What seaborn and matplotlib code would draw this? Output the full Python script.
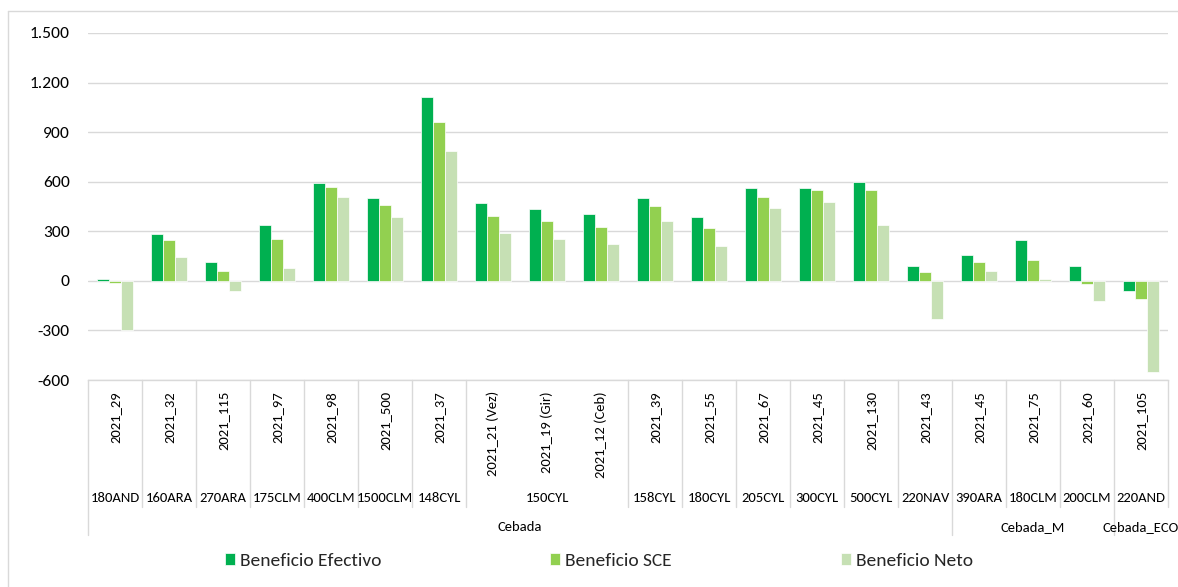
import matplotlib
matplotlib.use("Agg")
import matplotlib.pyplot as plt
import seaborn as sns
import pandas as pd
import numpy as np
from matplotlib import font_manager
from matplotlib.ticker import FuncFormatter
from matplotlib.transforms import blended_transform_factory
from matplotlib.lines import Line2D

# ---------------- data ----------------
categories = ["2021_29", "2021_32", "2021_115", "2021_97", "2021_98", "2021_500",
              "2021_37", "2021_21 (Vez)", "2021_19 (Gir)", "2021_12 (Ceb)", "2021_39",
              "2021_55", "2021_67", "2021_45", "2021_130", "2021_43", "2021_45 ",
              "2021_75", "2021_60", "2021_105"]
efectivo = [14, 286, 115, 338, 594, 503, 1111, 471, 437, 403, 503, 384, 564, 560, 598,
            89, 159, 250, 89, -60]
sce = [-12, 246, 62, 254, 568, 459, 960, 393, 362, 328, 455, 320, 507, 552, 552,
       52, 115, 127, -18, -107]
neto = [-300, 145, -60, 80, 509, 384, 787, 292, 256, 223, 362, 213, 441, 477, 338,
        -229, 62, 10, -121, -553]
level2_labels = ["180AND", "160ARA", "270ARA", "175CLM", "400CLM", "1500CLM", "148CYL",
                 "150CYL", "158CYL", "180CYL", "205CYL", "300CYL", "500CYL", "220NAV",
                 "390ARA", "180CLM", "200CLM", "220AND"]
level2_sizes = [1, 1, 1, 1, 1, 1, 1, 3, 1, 1, 1, 1, 1, 1, 1, 1, 1, 1]
level3_labels = ["Cebada", "Cebada_M", "Cebada_ECO"]
level3_sizes = [16, 3, 1]
series_names = ["Beneficio Efectivo", "Beneficio SCE", "Beneficio Neto"]
series_colors = ["#00B050", "#92D050", "#C6E0B4"]
yticks = [-600, -300, 0, 300, 600, 900, 1200, 1500]

# ---------------- style ----------------
sns.set_theme(style="white")
avail = {f.name for f in font_manager.fontManager.ttflist}
prefs = [("Carlito", 10.5), ("Liberation Sans Narrow", 11), ("Roboto Condensed", 10.5),
         ("DejaVu Sans Condensed", 9.5), ("Liberation Sans", 10), ("DejaVu Sans", 9.5)]
FONT, FS = next((f, s) for f, s in prefs if f in avail)
plt.rcParams["font.family"] = [FONT, "DejaVu Sans"]
GRID = "#D9D9D9"

W, H = 1178, 587
fig = plt.figure(figsize=(W / 100, H / 100), dpi=100)
fig.patch.set_facecolor("white")
ax = fig.add_axes([88 / W, (H - 380) / H, 1080 / W, 347 / H])

df = pd.DataFrame({
    "cat": categories * 3,
    "serie": [series_names[0]] * len(categories) + [series_names[1]] * len(categories)
             + [series_names[2]] * len(categories),
    "value": efectivo + sce + neto,
})

sns.barplot(data=df, x="cat", y="value", hue="serie", order=categories,
            hue_order=series_names, palette=series_colors, saturation=1, width=0.667,
            gap=0, edgecolor="white", linewidth=0.5, ax=ax, errorbar=None)

ax.set_xlim(-0.5, len(categories) - 0.5)
ax.set_ylim(-600, 1500)
ax.set_yticks(yticks)
ax.yaxis.set_major_formatter(FuncFormatter(lambda v, p: f"{int(v):,}".replace(",", ".")))
ax.yaxis.grid(True, color=GRID, linewidth=1)
ax.set_axisbelow(True)
for s in ["left", "right", "top"]:
    ax.spines[s].set_visible(False)
ax.spines["bottom"].set_color(GRID)
ax.spines["bottom"].set_linewidth(1)
ax.tick_params(axis="x", length=0, labelbottom=False)
ax.tick_params(axis="y", length=0, pad=13, labelsize=FS * 1.2, labelcolor="black")
ax.set_xlabel("")
ax.set_ylabel("")

trans = blended_transform_factory(ax.transData, ax.transAxes)
ph = 347.0
y_l2_line = -(507 - 380) / ph
y_l3_line = -(535 - 380) / ph
y_l1_text = -(391 - 380) / ph
y_l2_text = -(498 - 380) / ph
y_l3_text = -(527 - 380) / ph

# level-1 labels (rotated)
for i, c in enumerate(categories):
    ax.text(i, y_l1_text, c.strip(), transform=trans, rotation=90, ha="center", va="top",
            fontsize=FS, color="black", clip_on=False)

# level-3 boundaries
l3_bounds = [-0.5 + b for b in np.cumsum([0] + level3_sizes)]
for b in l3_bounds[:-1]:
    ax.add_line(Line2D([b, b], [0, y_l3_line], transform=trans, color=GRID, lw=1,
                       clip_on=False))
# level-2 boundaries
l2_edges = np.cumsum([0] + level2_sizes)
for b in l2_edges:
    bx = -0.5 + b
    if bx in l3_bounds[:-1]:
        continue
    ax.add_line(Line2D([bx, bx], [0, y_l2_line], transform=trans, color=GRID, lw=1,
                       clip_on=False))
# level-2 labels
for lab, s, e in zip(level2_labels, l2_edges[:-1], l2_edges[1:]):
    ax.text((s + e - 1) / 2, y_l2_text, lab, transform=trans, ha="center", va="center",
            fontsize=FS, color="black", clip_on=False)
# level-3 labels
l3_edges = np.cumsum([0] + level3_sizes)
for lab, s, e in zip(level3_labels, l3_edges[:-1], l3_edges[1:]):
    ax.text((s + e - 1) / 2, y_l3_text, lab, transform=trans, ha="center", va="center",
            fontsize=FS, color="black", clip_on=False)

# chart border (partially cropped)
fig.add_artist(Line2D([8 / W, 8 / W], [0, 1 - 11 / H], transform=fig.transFigure,
                      color=GRID, lw=1))
fig.add_artist(Line2D([8 / W, 1], [1 - 11 / H, 1 - 11 / H], transform=fig.transFigure,
                      color=GRID, lw=1))

sns.move_legend(ax, "center", bbox_to_anchor=(599 / W, (H - 561) / H),
                bbox_transform=fig.transFigure, ncol=3, frameon=False, title=None,
                handlelength=0.52, handleheight=0.52, handletextpad=0.26,
                columnspacing=8.7, fontsize=FS * 1.33)

fig.savefig("out.png", dpi=100, facecolor="white")
